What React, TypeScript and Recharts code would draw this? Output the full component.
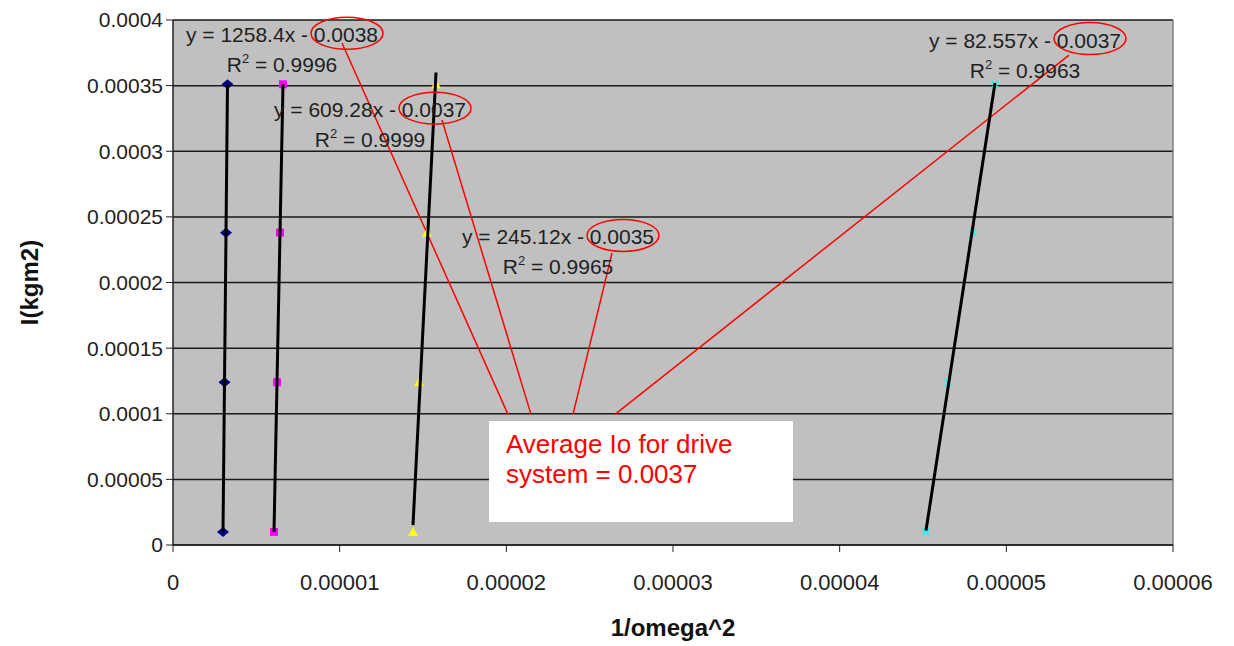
import React from 'react';
import {
  ComposedChart,
  Scatter,
  XAxis,
  YAxis,
  CartesianGrid,
  ReferenceLine,
  ReferenceDot,
  ReferenceArea,
  Label,
} from 'recharts';

const FONT = '"Liberation Sans", Arial, sans-serif';

// moment of inertia added for each run (kg m^2)
const inertia = [0.000351, 0.000238, 0.000124, 0.00001];

// 1/omega^2 measured for each drive setup, same order as inertia
const run1 = [0.00000327, 0.00000318, 0.00000309, 0.000003];
const run2 = [0.0000066, 0.00000642, 0.00000624, 0.00000606];
const run3 = [0.00001578, 0.00001524, 0.00001476, 0.0000144];
const run4 = [0.00004932, 0.000048, 0.0000465, 0.00004518];

// linear trendline ends for each run: [x at low end, x at high end] / [I at low end, I at high end]
const trendX = [
  [0.000003, 0.00000327],
  [0.00000606, 0.0000066],
  [0.0000144, 0.00001578],
  [0.00004518, 0.00004932],
];
const trendY = [
  [0.00001, 0.000351],
  [0.00001, 0.000351],
  [0.0000152, 0.00036],
  [0.000011, 0.000352],
];

// trendline equations shown next to each fit
const equations = ['y = 1258.4x - 0.0038', 'y = 609.28x - 0.0037', 'y = 245.12x - 0.0035', 'y = 82.557x - 0.0037'];
const rSquared = ['0.9996', '0.9999', '0.9965', '0.9963'];

const xTicks = [0, 0.00001, 0.00002, 0.00003, 0.00004, 0.00005, 0.00006];
const yTicks = [0, 0.00005, 0.0001, 0.00015, 0.0002, 0.00025, 0.0003, 0.00035, 0.0004];

// where the equation boxes sit (data coords of the first line's centre)
const eqSpots = [
  { x: 0.00000654, y: 0.000383 },
  { x: 0.00001182, y: 0.000326 },
  { x: 0.0000231, y: 0.000229 },
  { x: 0.00005112, y: 0.000379 },
];

// red leader lines from the circled intercepts to the note
const leaders = [
  [{ x: 0.00001014, y: 0.0003825 }, { x: 0.0000201, y: 0.0000995 }],
  [{ x: 0.00001614, y: 0.0003238 }, { x: 0.00002148, y: 0.0000995 }],
  [{ x: 0.00002634, y: 0.0002225 }, { x: 0.000024, y: 0.0000995 }],
  [{ x: 0.00005376, y: 0.0003733 }, { x: 0.00002652, y: 0.0000995 }],
];

const toPoints = (xs: number[]) => xs.map((x, i) => ({ x, y: inertia[i] }));

const series = [
  { name: 'run1', data: toPoints(run1), marker: 'diamond' },
  { name: 'run2', data: toPoints(run2), marker: 'square' },
  { name: 'run3', data: toPoints(run3), marker: 'triangle' },
  { name: 'run4', data: toPoints(run4), marker: 'cross' },
];

const trends = trendX.map((xs, i) => xs.map((x, j) => ({ x, y: trendY[i][j] })));

const Marker = (kind: string) => (props: any) => {
  const { cx, cy } = props;
  if (kind === 'diamond') {
    return <polygon points={`${cx - 6},${cy} ${cx},${cy - 5} ${cx + 6},${cy} ${cx},${cy + 5}`} fill="#000080" />;
  }
  if (kind === 'square') {
    return <rect x={cx - 4} y={cy - 4} width={8} height={8} fill="#FF00FF" />;
  }
  if (kind === 'triangle') {
    return <polygon points={`${cx - 5},${cy + 4} ${cx},${cy - 5} ${cx + 5},${cy + 4}`} fill="#FFFF00" />;
  }
  return (
    <g stroke="#00FFFF" strokeWidth={1.5}>
      <line x1={cx - 3.5} y1={cy - 3.5} x2={cx + 3.5} y2={cy + 3.5} />
      <line x1={cx - 3.5} y1={cy + 3.5} x2={cx + 3.5} y2={cy - 3.5} />
    </g>
  );
};

const NoMarker = () => <g />;

const EquationLabel = (i: number) => (props: any) => {
  const { cx, cy } = props;
  return (
    <g fontFamily={FONT} fontSize={21} fill="#1f1f1f">
      <text x={cx} y={cy} textAnchor="middle">{equations[i]}</text>
      <text x={cx} y={cy + 30} textAnchor="middle">
        R<tspan fontSize={13} dy={-9}>2</tspan>
        <tspan dy={9}>{` = ${rSquared[i]}`}</tspan>
      </text>
      <ellipse cx={cx + 65} cy={cy - 9} rx={36} ry={16} fill="none" stroke="#FF0000" strokeWidth={1.5} />
    </g>
  );
};

const NoteText = (props: any) => {
  const { x, y } = props.viewBox;
  return (
    <g fontFamily={FONT} fontSize={26} fill="#FF0000">
      <text x={x + 17} y={y + 32}>Average Io for drive</text>
      <text x={x + 17} y={y + 62}>system = 0.0037</text>
    </g>
  );
};

const YTitle = (props: any) => {
  const { y, height } = props.viewBox;
  return (
    <text
      transform={`translate(29, ${y + height / 2}) rotate(-90)`}
      textAnchor="middle"
      dominantBaseline="central"
      fontFamily={FONT}
      fontSize={24}
      fontWeight="bold"
      fill="#111"
    >
      I(kgm2)
    </text>
  );
};

const App: React.FC = () => {
  return (
    <div style={{ position: 'absolute', left: 0, top: 0, width: 1234, height: 646, background: '#fff' }}>
      <ComposedChart width={1234} height={646} margin={{ top: 20, right: 61, bottom: 41, left: 53 }}>
        <CartesianGrid vertical={false} fill="#C0C0C0" stroke="#1a1a1a" strokeWidth={1.5} />
        <XAxis
          type="number"
          dataKey="x"
          domain={[0, 0.00006]}
          ticks={xTicks}
          tickFormatter={(v: number) => String(v)}
          tick={{ fill: '#222', fontSize: 22, fontFamily: FONT }}
          tickSize={7}
          tickMargin={22}
          tickLine={{ stroke: '#222' }}
          axisLine={{ stroke: '#222', strokeWidth: 1.5 }}
          height={60}
          allowDataOverflow
        >
          <Label
            value="1/omega^2"
            position="bottom"
            offset={14}
            style={{ fontWeight: 'bold', fontSize: 24, fontFamily: FONT, fill: '#111' }}
          />
        </XAxis>
        <YAxis
          type="number"
          dataKey="y"
          domain={[0, 0.0004]}
          ticks={yTicks}
          tickFormatter={(v: number) => String(v)}
          tick={{ fill: '#222', fontSize: 21, fontFamily: FONT }}
          tickSize={7}
          tickMargin={3}
          tickLine={{ stroke: '#222' }}
          axisLine={{ stroke: '#222', strokeWidth: 1.5 }}
          width={120}
          allowDataOverflow
        >
          <Label content={YTitle} />
        </YAxis>
        <ReferenceLine x={0.00006} stroke="#808080" strokeWidth={1.5} />

        {series.map(s => (
          <Scatter key={s.name} data={s.data} shape={Marker(s.marker)} isAnimationActive={false} />
        ))}
        {trends.map((t, i) => (
          <Scatter
            key={'trend' + i}
            data={t}
            line={{ stroke: '#000', strokeWidth: 3 }}
            lineType="joint"
            shape={NoMarker}
            isAnimationActive={false}
          />
        ))}

        {leaders.map((seg, i) => (
          <ReferenceLine key={'lead' + i} segment={seg} stroke="#FF0000" strokeWidth={1.5} ifOverflow="visible" />
        ))}
        <ReferenceArea
          x1={0.00001896}
          x2={0.0000372}
          y1={0.0000175}
          y2={0.0000945}
          fill="#FFFFFF"
          fillOpacity={1}
          stroke="none"
          label={<NoteText />}
        />
        {eqSpots.map((p, i) => (
          <ReferenceDot key={'eq' + i} x={p.x} y={p.y} r={0} shape={EquationLabel(i)} ifOverflow="visible" />
        ))}
      </ComposedChart>
    </div>
  );
};

export default App;
